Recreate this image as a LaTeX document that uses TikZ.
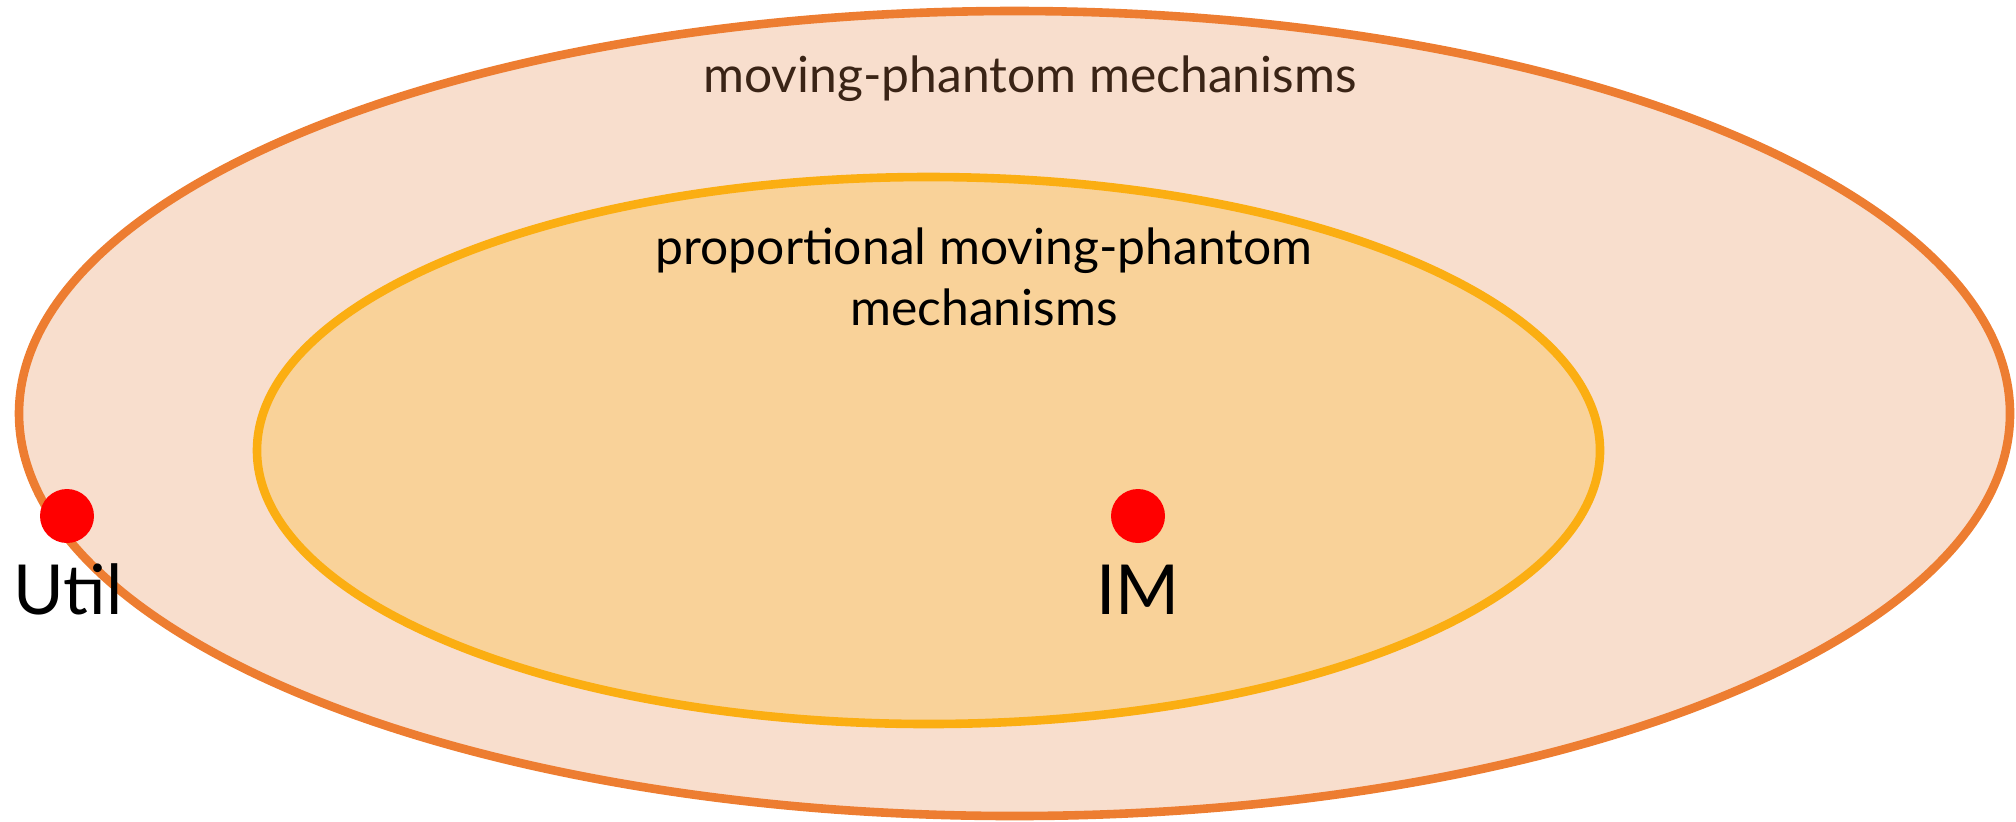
\documentclass[tikz,border=0pt]{standalone}
\usepackage{fontspec}
\setmainfont{Lato}
\usetikzlibrary{shapes.geometric}
\definecolor{outerfill}{HTML}{F8DECD}
\definecolor{outerline}{HTML}{ED7D31}
\definecolor{innerfill}{HTML}{F9D299}
\definecolor{innerline}{HTML}{FBAE12}
\definecolor{outertext}{HTML}{3A2416}
\definecolor{dotred}{HTML}{FF0000}
\tikzset{
  setshape/.style={ellipse, inner sep=0pt, line width=4.3pt},
  outerset/.style={setshape, draw=outerline, fill=outerfill},
  innerset/.style={setshape, draw=innerline, fill=innerfill},
  reddot/.style={circle, fill=dotred, inner sep=0pt, minimum size=27pt},
  setlabel/.style={font=\fontsize{24.9}{30}\selectfont, align=center, inner sep=0pt},
  ptlabel/.style={font=\fontsize{34.5}{42}\selectfont, inner sep=0pt, anchor=base},
}
\begin{document}
\begin{tikzpicture}[x=0.5pt,y=-0.5pt]
\useasboundingbox (0,0) rectangle (2016,821);
\node[outerset, minimum width=995.5pt, minimum height=402.5pt] (outer) at (1014.5,413.5) {};
\node[innerset, minimum width=671.5pt, minimum height=273.5pt] (inner) at (928.5,450.5) {};
\node[setlabel, text=outertext, anchor=base] (outerlbl) at (1030,92) {moving-phantom mechanisms};
\node[setlabel, text=black, anchor=base] (innerlbl1) at (984,264) {proportional moving-phantom};
\node[setlabel, text=black, anchor=base] (innerlbl2) at (984,325) {mechanisms};
\node[reddot] (util) at (67,516) {};
\node[reddot] (im) at (1138,516) {};
\node[ptlabel] (utillbl) at (68,614) {Util};
\node[ptlabel] (imlbl) at (1138,614) {IM};
\end{tikzpicture}
\end{document}
